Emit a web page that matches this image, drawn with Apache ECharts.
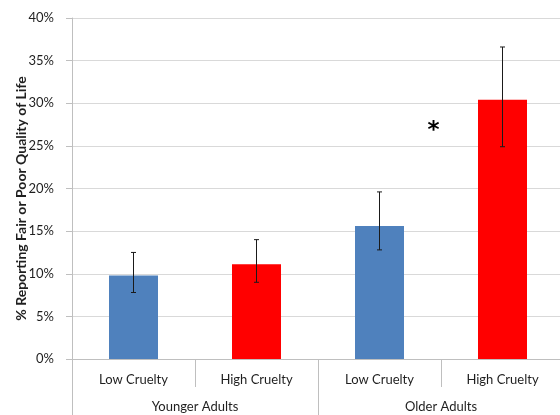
<!DOCTYPE html>
<html>
<head>
<meta charset="utf-8">
<script src="https://cdn.jsdelivr.net/npm/echarts@6/dist/echarts.min.js"></script>
<style>html,body{margin:0;padding:0;background:#fff}#c{width:560px;height:415px}</style>
</head>
<body>
<div id="c"></div>
<script>
const categories = ['Low Cruelty', 'High Cruelty', 'Low Cruelty', 'High Cruelty'];
const groups = ['Younger Adults', 'Older Adults'];
const values = [9.8, 11.1, 15.6, 30.4];
const errLow = [7.8, 9.0, 12.8, 24.9];
const errHigh = [12.5, 14.0, 19.6, 36.6];
const barColors = ['#4F81BD', '#FF0000', '#4F81BD', '#FF0000'];
const yTicks = [0, 5, 10, 15, 20, 25, 30, 35, 40];
const starMark = { category: 3, value: 26.7, text: '*' };

const FONT = 'Lato, "Open Sans", sans-serif';
const chart = echarts.init(document.getElementById('c'), null, { renderer: 'canvas' });

chart.setOption({
  animation: false,
  textStyle: { fontFamily: FONT },
  grid: { left: 72, right: -4, top: 18, bottom: 56, containLabel: false, outerBoundsMode: 'none' },
  xAxis: [
    {
      type: 'category', data: categories, position: 'bottom',
      axisLine: { show: true, lineStyle: { color: '#bfbfbf', width: 1 } },
      axisTick: { show: true, interval: 0, length: 28, lineStyle: { color: '#bfbfbf' } },
      axisLabel: { interval: 0, margin: 14, fontSize: 13, color: '#1f1f1f', fontFamily: FONT }
    },
    {
      type: 'category', data: groups, position: 'bottom',
      axisLine: { show: false },
      axisTick: { show: true, interval: 0, length: 60, lineStyle: { color: '#bfbfbf' } },
      axisLabel: { interval: 0, margin: 41, fontSize: 13, color: '#1f1f1f', fontFamily: FONT }
    }
  ],
  yAxis: {
    type: 'value', min: yTicks[0], max: yTicks[yTicks.length - 1], interval: 5,
    name: '% Reporting Fair or Poor Quality of Life',
    nameLocation: 'middle', nameGap: 44, nameMoveOverlap: false,
    nameTextStyle: { fontSize: 14, fontWeight: 'bold', color: '#1f1f1f', fontFamily: FONT, padding: [0, 20, 0, 0] },
    axisLine: { show: true, lineStyle: { color: '#bfbfbf' } },
    axisTick: { show: true, length: 6, lineStyle: { color: '#bfbfbf' } },
    axisLabel: { formatter: '{value}%', margin: 18, fontSize: 13, color: '#1f1f1f', fontFamily: FONT },
    splitLine: { show: true, lineStyle: { color: '#d9d9d9', width: 1 } }
  },
  series: [
    {
      type: 'bar', xAxisIndex: 0, barWidth: 49,
      data: values.map((v, i) => ({ value: v, itemStyle: { color: barColors[i] } }))
    },
    {
      type: 'custom', xAxisIndex: 0, z: 5,
      data: values.map((v, i) => [i, errLow[i], errHigh[i]]),
      renderItem: function (params, api) {
        const x = api.value(0);
        const top = api.coord([x, api.value(2)]);
        const bot = api.coord([x, api.value(1)]);
        const hw = 2.5;
        const st = { stroke: '#1a1a1a', lineWidth: 1 };
        return {
          type: 'group',
          children: [
            { type: 'line', shape: { x1: top[0], y1: top[1], x2: bot[0], y2: bot[1] }, style: st },
            { type: 'line', shape: { x1: top[0] - hw, y1: top[1], x2: top[0] + hw, y2: top[1] }, style: st },
            { type: 'line', shape: { x1: bot[0] - hw, y1: bot[1], x2: bot[0] + hw, y2: bot[1] }, style: st }
          ]
        };
      }
    },
    {
      type: 'custom', xAxisIndex: 0, z: 6,
      data: [[starMark.category, starMark.value]],
      renderItem: function (params, api) {
        const p = api.coord([api.value(0), api.value(1)]);
        const bw = api.size([1, 0])[0];
        return {
          type: 'text',
          style: {
            x: p[0] - bw * 0.56, y: p[1], text: starMark.text,
            fontSize: 23, fontWeight: 'bold', fill: '#000', fontFamily: '"DejaVu Sans", sans-serif',
            align: 'center', verticalAlign: 'middle'
          }
        };
      }
    }
  ]
});
</script>
</body>
</html>
